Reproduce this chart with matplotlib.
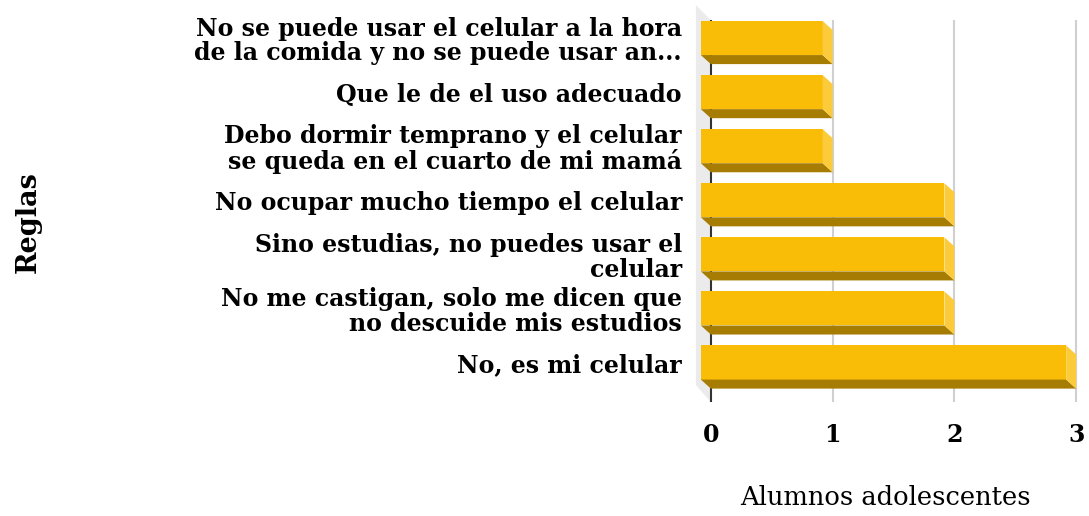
import matplotlib.pyplot as plt
from matplotlib.patches import Polygon

reglas = [
    'No, es mi celular',
    'No me castigan, solo me dicen que\nno descuide mis estudios',
    'Sino estudias, no puedes usar el\ncelular',
    'No ocupar mucho tiempo el celular',
    'Debo dormir temprano y el celular\nse queda en el cuarto de mi mamá',
    'Que le de el uso adecuado',
    'No se puede usar el celular a la hora\nde la comida y no se puede usar an...',
]
alumnos = [3, 2, 2, 2, 1, 1, 1]
ticks = [0, 1, 2, 3]

fig = plt.figure(figsize=(10.89, 5.16), dpi=100)
ax = fig.add_axes([0.639, 0.2209, 0.351, 0.7403])

# profundidad del efecto 3D (en unidades de datos)
dx = 0.082
dy = 0.167
h = 0.315

# pared lateral gris
wall = Polygon([(-0.123, 6.61), (0, 6.333), (0, -0.73), (-0.123, -0.416)],
               closed=True, facecolor='#ebebeb', edgecolor='none', clip_on=False, zorder=0)
ax.add_patch(wall)

for t in ticks[1:]:
    ax.axvline(t, color='#d0d0d0', lw=1.5, zorder=1)
ax.axvline(0, color='#333333', lw=1.5, zorder=1)

pos = list(range(len(reglas)))
ax.barh(pos, alumnos, left=-dx, height=2 * h, color='#FABD07', zorder=3)
for y, v in zip(pos, alumnos):
    bottom = Polygon([(-dx, y - h), (v - dx, y - h), (v, y - h - dy), (0, y - h - dy)],
                     closed=True, facecolor='#A67C02', edgecolor='none', zorder=3)
    side = Polygon([(v - dx, y + h), (v, y + h - dy), (v, y - h - dy), (v - dx, y - h)],
                   closed=True, facecolor='#FCCB3B', edgecolor='none', zorder=3)
    ax.add_patch(bottom)
    ax.add_patch(side)

ax.set_xlim(-0.123, 3.016)
ax.set_ylim(-0.73, 6.333)
ax.set_yticks(pos)
ax.set_yticklabels(reglas, fontsize=17, fontweight='bold', family='DejaVu Serif', linespacing=1.04)
ax.set_xticks(ticks)
ax.set_xticklabels([str(t) for t in ticks], fontsize=17, fontweight='bold', family='DejaVu Serif')
ax.tick_params(axis='y', length=0, pad=10)
ax.tick_params(axis='x', length=0, pad=15)
for s in ax.spines.values():
    s.set_visible(False)

fig.text(0.8127, 0.035, 'Alumnos adolescentes', ha='center', va='center', fontsize=18.5, family='DejaVu Serif')
fig.text(0.026, 0.57, 'Reglas', ha='center', va='center', rotation=90, fontsize=19.5,
         fontweight='bold', family='DejaVu Serif')

plt.savefig('out.png', dpi=100)
